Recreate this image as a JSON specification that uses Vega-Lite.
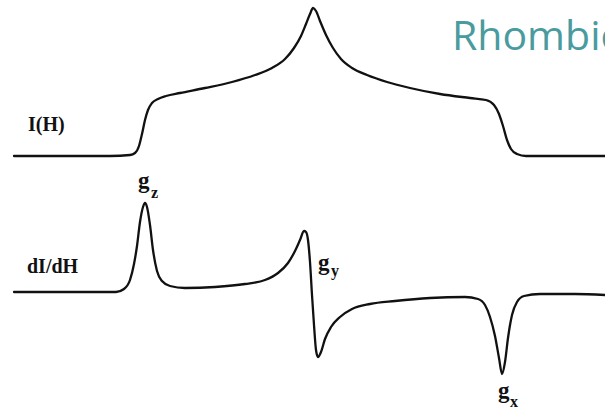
{
  "$schema": "https://vega.github.io/schema/vega-lite/v6.json",
  "width": 605,
  "height": 412,
  "autosize": {"type": "fit", "contains": "padding"},
  "padding": 0,
  "background": "white",
  "view": {"stroke": null},
  "config": {"axis": {"disable": true}},
  "datasets": {
    "spectrum": [
      {"curve": "absorption", "h": 14, "v": 156},
      {"curve": "absorption", "h": 60, "v": 156},
      {"curve": "absorption", "h": 110, "v": 156},
      {"curve": "absorption", "h": 130, "v": 155},
      {"curve": "absorption", "h": 135, "v": 153},
      {"curve": "absorption", "h": 139, "v": 146},
      {"curve": "absorption", "h": 142, "v": 134},
      {"curve": "absorption", "h": 145, "v": 120},
      {"curve": "absorption", "h": 148, "v": 110},
      {"curve": "absorption", "h": 152, "v": 103},
      {"curve": "absorption", "h": 158, "v": 99},
      {"curve": "absorption", "h": 166, "v": 96},
      {"curve": "absorption", "h": 180, "v": 93},
      {"curve": "absorption", "h": 205, "v": 88},
      {"curve": "absorption", "h": 232, "v": 82},
      {"curve": "absorption", "h": 255, "v": 75},
      {"curve": "absorption", "h": 272, "v": 68},
      {"curve": "absorption", "h": 285, "v": 59},
      {"curve": "absorption", "h": 294, "v": 48},
      {"curve": "absorption", "h": 301, "v": 36},
      {"curve": "absorption", "h": 306, "v": 24},
      {"curve": "absorption", "h": 310, "v": 14},
      {"curve": "absorption", "h": 313, "v": 8},
      {"curve": "absorption", "h": 316, "v": 11},
      {"curve": "absorption", "h": 320, "v": 21},
      {"curve": "absorption", "h": 326, "v": 35},
      {"curve": "absorption", "h": 333, "v": 48},
      {"curve": "absorption", "h": 341, "v": 59},
      {"curve": "absorption", "h": 352, "v": 68},
      {"curve": "absorption", "h": 367, "v": 75},
      {"curve": "absorption", "h": 387, "v": 82},
      {"curve": "absorption", "h": 410, "v": 88},
      {"curve": "absorption", "h": 440, "v": 94},
      {"curve": "absorption", "h": 470, "v": 98},
      {"curve": "absorption", "h": 486, "v": 100},
      {"curve": "absorption", "h": 494, "v": 105},
      {"curve": "absorption", "h": 499, "v": 114},
      {"curve": "absorption", "h": 503, "v": 126},
      {"curve": "absorption", "h": 507, "v": 140},
      {"curve": "absorption", "h": 511, "v": 149},
      {"curve": "absorption", "h": 517, "v": 154},
      {"curve": "absorption", "h": 526, "v": 156},
      {"curve": "absorption", "h": 560, "v": 156},
      {"curve": "absorption", "h": 605, "v": 156},

      {"curve": "derivative", "h": 14, "v": 292},
      {"curve": "derivative", "h": 70, "v": 292},
      {"curve": "derivative", "h": 116, "v": 292},
      {"curve": "derivative", "h": 124, "v": 289},
      {"curve": "derivative", "h": 130, "v": 280},
      {"curve": "derivative", "h": 134, "v": 264},
      {"curve": "derivative", "h": 137, "v": 246},
      {"curve": "derivative", "h": 140, "v": 222},
      {"curve": "derivative", "h": 143, "v": 207},
      {"curve": "derivative", "h": 145, "v": 203},
      {"curve": "derivative", "h": 147, "v": 207},
      {"curve": "derivative", "h": 150, "v": 225},
      {"curve": "derivative", "h": 153, "v": 250},
      {"curve": "derivative", "h": 157, "v": 271},
      {"curve": "derivative", "h": 162, "v": 281},
      {"curve": "derivative", "h": 170, "v": 286},
      {"curve": "derivative", "h": 185, "v": 288},
      {"curve": "derivative", "h": 215, "v": 287},
      {"curve": "derivative", "h": 245, "v": 284},
      {"curve": "derivative", "h": 265, "v": 280},
      {"curve": "derivative", "h": 278, "v": 273},
      {"curve": "derivative", "h": 288, "v": 263},
      {"curve": "derivative", "h": 295, "v": 251},
      {"curve": "derivative", "h": 300, "v": 240},
      {"curve": "derivative", "h": 304, "v": 231},
      {"curve": "derivative", "h": 306, "v": 232},
      {"curve": "derivative", "h": 308, "v": 240},
      {"curve": "derivative", "h": 310, "v": 262},
      {"curve": "derivative", "h": 312, "v": 295},
      {"curve": "derivative", "h": 314, "v": 325},
      {"curve": "derivative", "h": 316, "v": 350},
      {"curve": "derivative", "h": 318, "v": 357},
      {"curve": "derivative", "h": 321, "v": 352},
      {"curve": "derivative", "h": 325, "v": 339},
      {"curve": "derivative", "h": 331, "v": 327},
      {"curve": "derivative", "h": 340, "v": 317},
      {"curve": "derivative", "h": 352, "v": 309},
      {"curve": "derivative", "h": 370, "v": 304},
      {"curve": "derivative", "h": 395, "v": 301},
      {"curve": "derivative", "h": 430, "v": 298},
      {"curve": "derivative", "h": 465, "v": 297},
      {"curve": "derivative", "h": 478, "v": 299},
      {"curve": "derivative", "h": 485, "v": 305},
      {"curve": "derivative", "h": 490, "v": 317},
      {"curve": "derivative", "h": 495, "v": 336},
      {"curve": "derivative", "h": 499, "v": 358},
      {"curve": "derivative", "h": 502, "v": 374},
      {"curve": "derivative", "h": 505, "v": 362},
      {"curve": "derivative", "h": 508, "v": 338},
      {"curve": "derivative", "h": 512, "v": 315},
      {"curve": "derivative", "h": 517, "v": 302},
      {"curve": "derivative", "h": 524, "v": 296},
      {"curve": "derivative", "h": 540, "v": 294},
      {"curve": "derivative", "h": 575, "v": 294},
      {"curve": "derivative", "h": 605, "v": 295}
    ],
    "curveLabels": [
      {"label": "I(H)", "h": 28, "v": 131},
      {"label": "dI/dH", "h": 27, "v": 273}
    ],
    "gLetters": [
      {"label": "g", "h": 138, "v": 188},
      {"label": "g", "h": 318, "v": 270},
      {"label": "g", "h": 498, "v": 398}
    ],
    "gSubscripts": [
      {"label": "z", "h": 151, "v": 198},
      {"label": "y", "h": 331, "v": 276},
      {"label": "x", "h": 510, "v": 407}
    ]
  },
  "encoding": {
    "x": {"field": "h", "type": "quantitative", "scale": {"domain": [0, 605], "nice": false, "zero": false}},
    "y": {"field": "v", "type": "quantitative", "scale": {"domain": [0, 412], "reverse": true, "nice": false, "zero": false}}
  },
  "layer": [
    {
      "data": {"name": "spectrum"},
      "mark": {"type": "line", "color": "#111111", "strokeWidth": 2.3, "interpolate": "monotone", "strokeCap": "round", "strokeJoin": "round", "clip": true},
      "encoding": {"detail": {"field": "curve"}}
    },
    {
      "data": {"name": "curveLabels"},
      "mark": {"type": "text", "align": "left", "baseline": "alphabetic", "font": "Liberation Serif", "fontSize": 20, "fontWeight": "bold", "color": "#111111"},
      "encoding": {"text": {"field": "label"}}
    },
    {
      "data": {"name": "gLetters"},
      "mark": {"type": "text", "align": "left", "baseline": "alphabetic", "font": "Liberation Serif", "fontSize": 23, "fontWeight": "bold", "color": "#111111"},
      "encoding": {"text": {"field": "label"}}
    },
    {
      "data": {"name": "gSubscripts"},
      "mark": {"type": "text", "align": "left", "baseline": "alphabetic", "font": "Liberation Serif", "fontSize": 16, "fontWeight": "bold", "color": "#111111"},
      "encoding": {"text": {"field": "label"}}
    },
    {
      "data": {"values": [{"label": "Rhombic", "h": 452, "v": 50}]},
      "mark": {"type": "text", "align": "left", "baseline": "alphabetic", "font": "Open Sans", "fontSize": 41, "color": "#4a9ba0", "clip": true},
      "encoding": {"text": {"field": "label"}}
    }
  ]
}
